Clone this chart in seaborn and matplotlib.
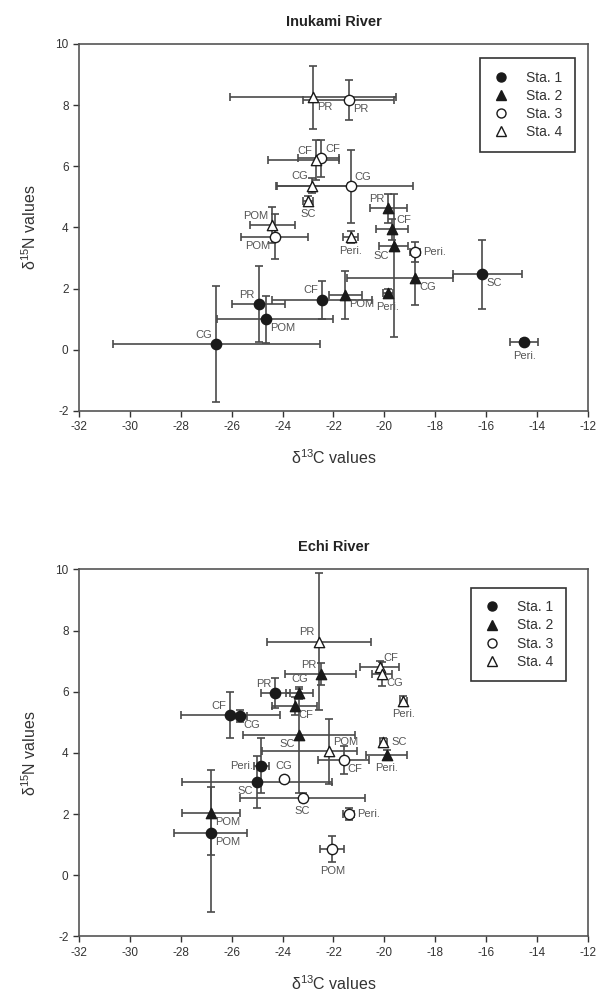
import matplotlib
matplotlib.use("Agg")
import matplotlib.pyplot as plt
from matplotlib.lines import Line2D
import pandas as pd
import seaborn as sns

# rows: label, d13C, d15N, xerr low, xerr high, yerr low, yerr high
inukami_sta1 = [("CG", -26.6, 0.19, 4.07, 4.07, 1.9, 1.9),
                ("PR", -24.94, 1.5, 1.05, 1.05, 1.25, 1.25),
                ("POM", -24.65, 1.0, 1.92, 2.65, 0.77, 0.77),
                ("CF", -22.44, 1.64, 1.97, 1.97, 0.62, 0.62),
                ("SC", -16.17, 2.47, 1.14, 1.58, 1.13, 1.13),
                ("Peri.", -14.5, 0.25, 0.55, 0.55, 0.1, 0.1)]
inukami_sta2 = [("POM", -21.54, 1.8, 0.65, 0.65, 0.78, 0.78),
                ("Peri.", -19.87, 1.85, 0.2, 0.2, 0.15, 0.15),
                ("SC", -19.64, 3.38, 0.58, 0.58, 2.97, 1.7),
                ("CF", -19.69, 3.94, 0.63, 0.63, 0.35, 0.35),
                ("PR", -19.85, 4.63, 0.72, 0.72, 0.47, 0.47),
                ("CG", -18.78, 2.36, 2.7, 1.47, 0.9, 0.9)]
inukami_sta3 = [("PR", -21.41, 8.16, 1.8, 1.8, 0.65, 0.65),
                ("CF", -22.48, 6.26, 0.9, 0.7, 0.6, 0.6),
                ("CG", -21.33, 5.34, 2.9, 2.45, 1.2, 1.2),
                ("POM", -24.31, 3.7, 1.32, 1.32, 0.74, 0.74),
                ("Peri.", -18.79, 3.21, 0.2, 0.2, 0.33, 0.33)]
inukami_sta4 = [("PR", -22.81, 8.25, 3.25, 3.25, 1.03, 1.03),
                ("CF", -22.68, 6.21, 1.9, 0.9, 0.65, 0.65),
                ("CG", -22.84, 5.37, 1.4, 1.4, 0.25, 0.25),
                ("SC", -23.01, 4.87, 0.2, 0.2, 0.15, 0.15),
                ("POM", -24.41, 4.08, 0.88, 0.88, 0.6, 0.6),
                ("Peri.", -21.33, 3.68, 0.3, 0.3, 0.2, 0.2)]

echi_sta1 = [("PR", -24.29, 5.95, 0.57, 0.57, 0.49, 0.49),
             ("CF", -26.06, 5.25, 1.95, 1.95, 0.75, 0.75),
             ("CG", -25.69, 5.21, 0.3, 0.3, 0.2, 0.2),
             ("Peri.", -24.84, 3.58, 0.3, 0.3, 0.9, 0.9),
             ("SC", -25.01, 3.05, 2.95, 2.95, 0.85, 0.85),
             ("POM", -26.83, 1.38, 1.44, 1.44, 2.58, 1.5)]
echi_sta2 = [("PR", -22.51, 6.58, 1.4, 1.4, 0.37, 0.37),
             ("CG", -23.34, 5.97, 0.54, 0.54, 0.2, 0.2),
             ("CF", -23.53, 5.54, 0.9, 0.9, 0.3, 0.3),
             ("SC", -23.36, 4.6, 2.2, 2.2, 1.9, 1.5),
             ("POM", -26.81, 2.05, 1.15, 1.15, 1.39, 1.39),
             ("Peri.", -19.91, 3.94, 0.8, 0.8, 0.15, 0.15)]
echi_sta3 = [("CG", -23.95, 3.14, 0.0, 0.0, 0.0, 0.0),
             ("SC", -23.21, 2.54, 2.45, 2.45, 0.15, 0.15),
             ("CF", -21.6, 3.77, 1.0, 1.0, 0.45, 0.45),
             ("Peri.", -21.41, 2.0, 0.2, 0.2, 0.2, 0.2),
             ("POM", -22.05, 0.86, 0.48, 0.48, 0.43, 0.43)]
echi_sta4 = [("PR", -22.58, 7.64, 2.05, 2.05, 2.25, 2.25),
             ("CF", -20.19, 6.82, 0.76, 0.76, 0.2, 0.2),
             ("CG", -20.09, 6.58, 0.4, 0.4, 0.4, 0.4),
             ("POM", -22.16, 4.05, 2.64, 1.1, 1.05, 1.05),
             ("SC", -20.04, 4.35, 0.15, 0.15, 0.15, 0.15),
             ("Peri.", -19.25, 5.7, 0.15, 0.15, 0.15, 0.15)]

stations = ["Sta. 1", "Sta. 2", "Sta. 3", "Sta. 4"]
x_ticks = list(range(-32, -11, 2))
y_ticks = list(range(-2, 11, 2))

# where each point label sits relative to its marker
inukami_label_pos = [["ul", "ul", "lr", "ul", "lr", "b"],
                     ["lr", "b", "ll", "ur", "ul", "lr"],
                     ["lr", "ur", "ur", "ll", "r"],
                     ["lr", "ul", "ul", "b", "ul", "b"]]
echi_label_pos = [["ul", "ul", "lr", "l", "ll", "lr"],
                  ["ul", "a", "lr", "ll", "lr", "b"],
                  ["a", "b", "lr", "r", "bb"],
                  ["ul", "ur", "lr", "ur", "r", "b"]]

sns.set_style("ticks")
plt.rcParams["font.family"] = ["Liberation Sans", "DejaVu Sans"]
plt.rcParams["mathtext.default"] = "regular"
plt.rcParams["axes.unicode_minus"] = False

marker_style = {"Sta. 1": ("o", "#1a1a1a"), "Sta. 2": ("^", "#1a1a1a"),
                "Sta. 3": ("o", "white"), "Sta. 4": ("^", "white")}
offsets = {"ul": ((-3, 3), "right", "bottom"), "ur": ((3, 3), "left", "bottom"),
           "ll": ((-3, -3), "right", "top"), "lr": ((3, -3), "left", "top"),
           "b": ((0, -6), "center", "top"), "bb": ((0, -12), "center", "top"),
           "a": ((0, 6), "center", "bottom"),
           "r": ((6, 0), "left", "center"), "l": ((-6, 0), "right", "center")}
cols = ["label", "x", "y", "xlo", "xhi", "ylo", "yhi"]


def draw_panel(ax, title, groups, label_pos, legend_anchor):
    for sta, rows, pos in zip(stations, groups, label_pos):
        df = pd.DataFrame(rows, columns=cols)
        ax.errorbar(df["x"], df["y"], xerr=[df["xlo"], df["xhi"]], yerr=[df["ylo"], df["yhi"]],
                    fmt="none", ecolor="#4a4a4a", elinewidth=1.2, capsize=3.2, capthick=1.2, zorder=2)
        mk, fc = marker_style[sta]
        sns.scatterplot(data=df, x="x", y="y", ax=ax, marker=mk, color=fc, edgecolor="#1a1a1a",
                        linewidth=1.0, s=55, zorder=3, legend=False)
        for (_, r), p in zip(df.iterrows(), pos):
            off, ha, va = offsets[p]
            ax.annotate(r["label"], (r["x"], r["y"]), xytext=off, textcoords="offset points",
                        ha=ha, va=va, fontsize=8, color="#555555", zorder=4)
    ax.set_xlim(-32, -12)
    ax.set_ylim(-2, 10)
    ax.set_xticks(x_ticks)
    ax.set_yticks(y_ticks)
    ax.tick_params(direction="out", length=4, width=1, labelsize=8.5, colors="#333333")
    for s in ax.spines.values():
        s.set_visible(True)
        s.set_color("#555555")
        s.set_linewidth(1.2)
    ax.set_title(title, fontsize=10.5, fontweight="bold", color="#222222", pad=13)
    ax.set_xlabel(r"$\delta^{13}$C values", fontsize=11.5, color="#333333", labelpad=11)
    ax.set_ylabel(r"$\delta^{15}$N values", fontsize=11.5, color="#333333", labelpad=12)
    handles = [Line2D([], [], linestyle="none", marker=marker_style[s][0], markerfacecolor=marker_style[s][1],
                      markeredgecolor="#1a1a1a", markersize=6.5) for s in stations]
    leg = ax.legend(handles, stations, loc="upper right", bbox_to_anchor=legend_anchor, borderaxespad=0,
                    fontsize=10, frameon=True, fancybox=False, framealpha=1, edgecolor="#333333",
                    borderpad=0.9, labelspacing=0.3, handlelength=1.2, handletextpad=1.2)
    leg.get_frame().set_linewidth(1.2)
    for t in leg.get_texts():
        t.set_color("#333333")


fig = plt.figure(figsize=(6.09, 9.99), dpi=100)
ax1 = fig.add_axes([0.1297, 0.5886, 0.8358, 0.3674])
ax2 = fig.add_axes([0.1297, 0.0626, 0.8358, 0.3674])

draw_panel(ax1, "Inukami River", [inukami_sta1, inukami_sta2, inukami_sta3, inukami_sta4],
           inukami_label_pos, (0.974, 0.961))
draw_panel(ax2, "Echi River", [echi_sta1, echi_sta2, echi_sta3, echi_sta4],
           echi_label_pos, (0.957, 0.950))

fig.savefig("out.png", dpi=100)
